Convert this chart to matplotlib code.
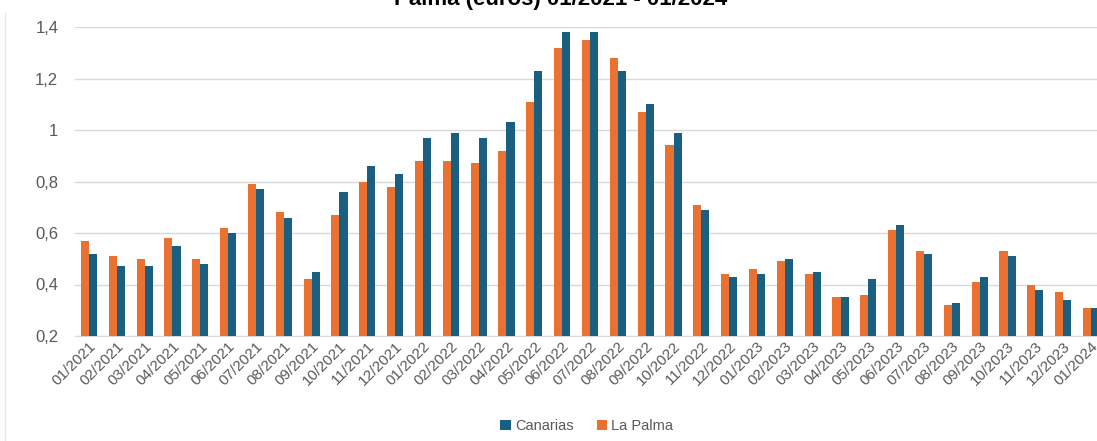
import numpy as np
import matplotlib
matplotlib.use('Agg')
import matplotlib.pyplot as plt
from matplotlib.ticker import FuncFormatter

# months shown on the x axis
months = ['01/2021', '02/2021', '03/2021', '04/2021', '05/2021', '06/2021',
          '07/2021', '08/2021', '09/2021', '10/2021', '11/2021', '12/2021',
          '01/2022', '02/2022', '03/2022', '04/2022', '05/2022', '06/2022',
          '07/2022', '08/2022', '09/2022', '10/2022', '11/2022', '12/2022',
          '01/2023', '02/2023', '03/2023', '04/2023', '05/2023', '06/2023',
          '07/2023', '08/2023', '09/2023', '10/2023', '11/2023', '12/2023',
          '01/2024']

la_palma = [0.57, 0.51, 0.50, 0.58, 0.50, 0.62, 0.79, 0.68, 0.42, 0.67, 0.80, 0.78,
            0.88, 0.88, 0.87, 0.92, 1.11, 1.32, 1.35, 1.28, 1.07, 0.94, 0.71, 0.44,
            0.46, 0.49, 0.44, 0.35, 0.36, 0.61, 0.53, 0.32, 0.41, 0.53, 0.40, 0.37,
            0.31]
canarias = [0.52, 0.47, 0.47, 0.55, 0.48, 0.60, 0.77, 0.66, 0.45, 0.76, 0.86, 0.83,
            0.97, 0.99, 0.97, 1.03, 1.23, 1.38, 1.38, 1.23, 1.10, 0.99, 0.69, 0.43,
            0.44, 0.50, 0.45, 0.35, 0.42, 0.63, 0.52, 0.33, 0.43, 0.51, 0.38, 0.34,
            0.31]

title = 'Palma (euros) 01/2021 - 01/2024'

c_orange = '#E97132'
c_blue = '#1A5F80'
txt_grey = '#595959'

plt.rcParams['font.family'] = ['Liberation Sans', 'DejaVu Sans']

fig = plt.figure(figsize=(10.97, 4.41), dpi=100)
# axes spans from x=75px to a bit beyond the right edge (chart is cropped)
ax = fig.add_axes([75 / 1097, (441 - 336) / 441, 1030 / 1097, (336 - 27) / 441])

x = np.arange(len(months))
w = 0.29
ax.bar(x - w / 2, la_palma, width=w, color=c_orange, label='La Palma', zorder=3)
ax.bar(x + w / 2, canarias, width=w, color=c_blue, label='Canarias', zorder=3)

ax.set_ylim(0.2, 1.4)
ax.set_xlim(-0.5, len(months) - 0.5)
ax.set_yticks([0.2, 0.4, 0.6, 0.8, 1.0, 1.2, 1.4])
ax.yaxis.set_major_formatter(FuncFormatter(
    lambda v, p: ('%g' % round(v, 1)).replace('.', ',')))
ax.grid(axis='y', color='#D9D9D9', linewidth=1, zorder=0)
for s in ['top', 'right', 'left']:
    ax.spines[s].set_visible(False)
ax.spines['bottom'].set_color('#D9D9D9')
ax.tick_params(axis='y', length=0, pad=12, labelsize=12, labelcolor=txt_grey)
ax.tick_params(axis='x', length=0, pad=2, labelsize=11, labelcolor=txt_grey)
ax.set_xticks(x)
ax.set_xticklabels(months, rotation=45, ha='right', rotation_mode='anchor')
# nudge the last label a little so it stays inside the picture
ax.get_xticklabels()[-1].set_x(x[-1] - 0.15)

# title is cut off at the top of the image
fig.text(0.511, 1.0, title, ha='center', va='center', fontsize=16,
         fontweight='bold', color='black')

h, l = ax.get_legend_handles_labels()
fig.legend(h[::-1], l[::-1], loc='center', bbox_to_anchor=(0.535, 1 - 426 / 441),
           ncol=2, frameon=False, fontsize=10.5, handlelength=0.7, handleheight=0.7,
           handletextpad=0.3, columnspacing=1.6, labelcolor=txt_grey)

# faint vertical line at left edge of screenshot
fig.add_artist(plt.Line2D([5 / 1097, 5 / 1097], [0, 0.97], color='#E6E6E6', lw=1))

fig.savefig('out.png', dpi=100)
